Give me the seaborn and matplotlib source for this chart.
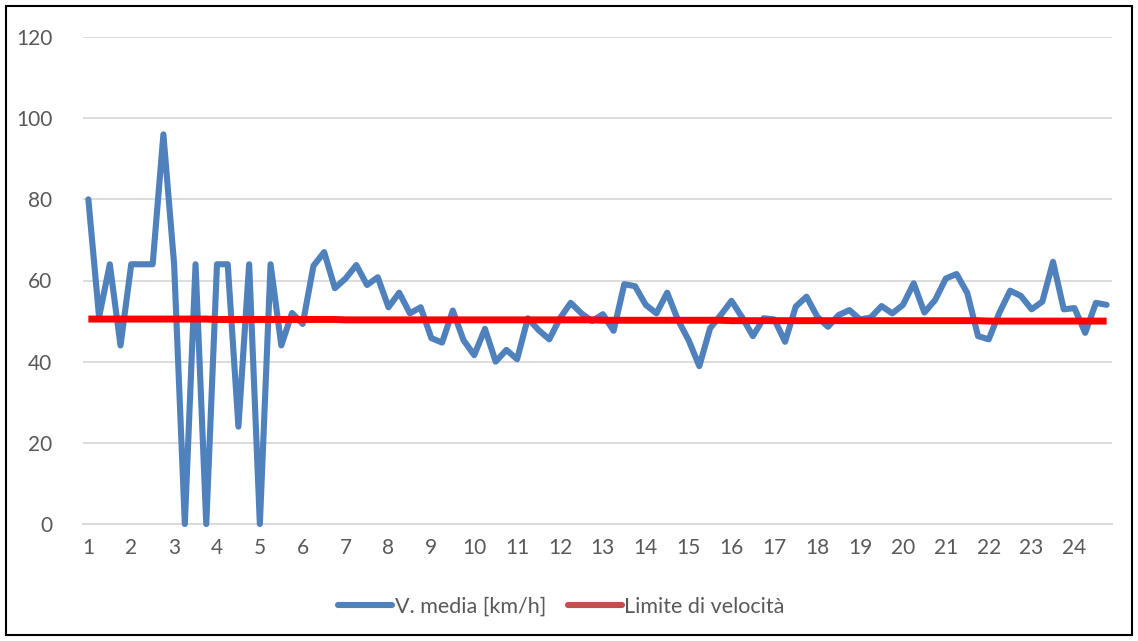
import numpy as np
import pandas as pd
import matplotlib
matplotlib.use("Agg")
import matplotlib.pyplot as plt
import seaborn as sns
from matplotlib.lines import Line2D
from matplotlib.patches import Rectangle

# 96 samples (4 per hour), hour labels 1..24
hour_labels = [str(h) for h in range(1, 25)]

v_media = [
    80, 51, 64, 44, 64, 64, 64, 96, 64, 0, 64, 0,
    64, 64, 24, 64, 0, 64, 44, 52, 49.3, 63.6, 67.0, 58.1,
    60.5, 63.8, 58.9, 60.8, 53.4, 57.0, 51.9, 53.4, 45.8, 44.7, 52.6, 45.3,
    41.6, 48.1, 40.0, 42.9, 40.6, 50.7, 47.8, 45.5, 50.7, 54.5, 51.9, 50.0,
    51.7, 47.6, 59.1, 58.6, 54.0, 51.9, 57.0, 50.3, 45.3, 38.9, 48.2, 51.5,
    55.0, 50.9, 46.3, 50.7, 50.4, 44.9, 53.6, 56.0, 51.1, 48.6, 51.5, 52.7,
    50.4, 50.9, 53.7, 51.9, 54.0, 59.3, 52.1, 55.2, 60.5, 61.6, 56.9, 46.3,
    45.5, 52.1, 57.5, 56.2, 52.9, 54.8, 64.6, 52.9, 53.2, 47.1, 54.5, 54.0,
]

limite = [
    50.5, 50.5, 50.5, 50.5, 50.5, 50.5, 50.5, 50.5, 50.5, 50.5, 50.5, 50.5,
    50.4, 50.4, 50.4, 50.4, 50.4, 50.4, 50.4, 50.4, 50.4, 50.4, 50.4, 50.4,
    50.3, 50.3, 50.3, 50.3, 50.3, 50.3, 50.3, 50.3, 50.3, 50.3, 50.3, 50.3,
    50.3, 50.3, 50.3, 50.3, 50.3, 50.3, 50.3, 50.3, 50.3, 50.3, 50.3, 50.3,
    50.2, 50.2, 50.2, 50.2, 50.2, 50.2, 50.2, 50.2, 50.2, 50.2, 50.2, 50.2,
    50.1, 50.1, 50.1, 50.1, 50.1, 50.1, 50.1, 50.1, 50.1, 50.1, 50.1, 50.1,
    50.1, 50.1, 50.1, 50.1, 50.1, 50.1, 50.1, 50.1, 50.1, 50.1, 50.1, 50.1,
    50.0, 50.0, 50.0, 50.0, 50.0, 50.0, 50.0, 50.0, 50.0, 50.0, 50.0, 50.0,
]

df = pd.DataFrame({"idx": range(len(v_media)), "v": v_media, "lim": limite})

sns.set_style("white")
plt.rcParams['font.family'] = ['Lato', 'DejaVu Sans']

fig = plt.figure(figsize=(11.38, 6.41), dpi=100)
ax = fig.add_axes([83 / 1138, 117 / 641, 1029 / 1138, 487 / 641])

grid_c = '#d9d9d9'
text_c = '#595959'
blue = '#4F81BD'

sns.lineplot(data=df, x="idx", y="v", ax=ax, color=blue, lw=4.4,
             solid_joinstyle='round', solid_capstyle='round', zorder=3,
             clip_on=False)
sns.lineplot(data=df, x="idx", y="lim", ax=ax, color='#FF0000', lw=5,
             solid_capstyle='butt', zorder=4)

ax.set_xlim(-0.5, len(v_media) - 0.5)
ax.set_ylim(0, 120)
ax.set_yticks(range(0, 121, 20))
ax.yaxis.grid(True, color=grid_c, lw=1.3)
ax.set_axisbelow(True)

# labels on every 4th category, tick marks on category boundaries
ax.set_xticks(range(0, len(v_media), 4))
ax.set_xticklabels(hour_labels)
ax.set_xticks(np.arange(-0.5, len(v_media), 4), minor=True)
ax.tick_params(axis='x', which='major', length=0, pad=10, labelsize=15, labelcolor=text_c)
ax.tick_params(axis='x', which='minor', length=6, width=1.3, color=grid_c, direction='out')
ax.tick_params(axis='y', length=0, pad=22, labelsize=15, labelcolor=text_c)
ax.set_xlabel('')
ax.set_ylabel('')

for side in ['top', 'right', 'left']:
    ax.spines[side].set_visible(False)
ax.spines['bottom'].set_color(grid_c)
ax.spines['bottom'].set_linewidth(1.3)

handles = [Line2D([], [], color=blue, lw=4.4, solid_capstyle='round'),
           Line2D([], [], color='#C0504D', lw=4.4, solid_capstyle='round')]
fig.legend(handles, ['V. media [km/h]', 'Limite di velocità'], loc='center',
           bbox_to_anchor=(0.4934, 1 - 607 / 641), ncol=2, frameon=False,
           fontsize=15.5, labelcolor=text_c, handlelength=2.5,
           handletextpad=0.12, columnspacing=1.0)

fig.patches.append(Rectangle((6 / 1138, 6 / 641), 1126 / 1138, 629 / 641,
                             transform=fig.transFigure, fill=False,
                             edgecolor='black', lw=1.5))

fig.savefig('out.png', dpi=100)
